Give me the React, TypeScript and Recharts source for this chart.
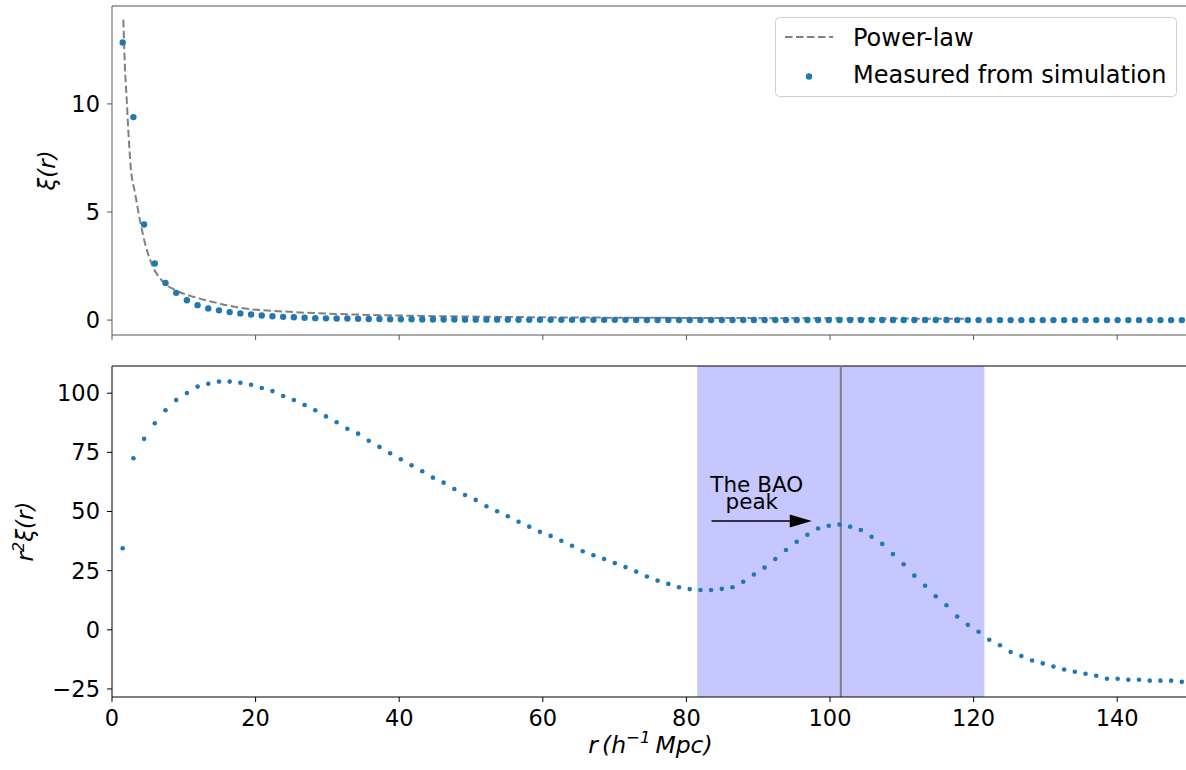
import {
  ComposedChart, Scatter, Line, XAxis, YAxis,
  ReferenceArea, ReferenceLine, ReferenceDot,
} from 'recharts';

// separation r in h^-1 Mpc
const R = [
  1.49, 2.98, 4.47, 5.96, 7.45, 8.94, 10.43, 11.92, 13.41, 14.9,
  16.39, 17.88, 19.37, 20.86, 22.35, 23.84, 25.33, 26.82, 28.31, 29.8,
  31.29, 32.78, 34.27, 35.76, 37.25, 38.74, 40.23, 41.72, 43.21, 44.7,
  46.19, 47.68, 49.17, 50.66, 52.15, 53.64, 55.13, 56.62, 58.11, 59.6,
  61.09, 62.58, 64.07, 65.56, 67.05, 68.54, 70.03, 71.52, 73.01, 74.5,
  75.99, 77.48, 78.97, 80.46, 81.95, 83.44, 84.93, 86.42, 87.91, 89.4,
  90.89, 92.38, 93.87, 95.36, 96.85, 98.34, 99.83, 101.32, 102.81, 104.3,
  105.79, 107.28, 108.77, 110.26, 111.75, 113.24, 114.73, 116.22, 117.71, 119.2,
  120.69, 122.18, 123.67, 125.16, 126.65, 128.14, 129.63, 131.12, 132.61, 134.1,
  135.59, 137.08, 138.57, 140.06, 141.55, 143.04, 144.53, 146.02, 147.51, 149.0,
];

// xi(r) measured from simulation
const XI = [
  12.84, 9.39, 4.42, 2.62, 1.72, 1.26, 0.92, 0.69, 0.54, 0.45,
  0.37, 0.31, 0.26, 0.21, 0.18, 0.15, 0.13, 0.11, 0.09, 0.08,
  0.07, 0.07, 0.06, 0.05, 0.05, 0.04, 0.04, 0.04, 0.03, 0.03,
  0.03, 0.03, 0.02, 0.02, 0.02, 0.02, 0.02, 0.01, 0.01, 0.01,
  0.01, 0.01, 0.01, 0.01, 0.01, 0.01, 0.01, 0.01, 0.005, 0.004,
  0.004, 0.003, 0.003, 0.003, 0.003, 0.002, 0.002, 0.002, 0.003, 0.003,
  0.003, 0.004, 0.004, 0.004, 0.004, 0.004, 0.004, 0.004, 0.004, 0.004,
  0.004, 0.003, 0.003, 0.002, 0.002, 0.002, 0.001, 0.001, 0.0, 0.0,
  0.0, 0.0, 0.0, -0.001, -0.001, -0.001, -0.001, -0.001, -0.001, -0.001,
  -0.001, -0.001, -0.001, -0.001, -0.001, -0.001, -0.001, -0.001, -0.001, -0.001,
];

// r^2 xi(r)
const R2XI = [
  34.5, 72.5, 80.7, 87.3, 92.8, 97.1, 100.1, 102.8, 104.0, 104.9,
  104.9, 104.4, 103.6, 102.2, 100.9, 98.8, 97.1, 95.0, 92.8, 90.2,
  87.7, 85.0, 82.9, 79.9, 77.3, 74.6, 72.1, 69.5, 67.0, 64.3,
  62.2, 59.5, 57.0, 54.9, 52.2, 50.1, 48.0, 45.7, 43.6, 41.4,
  39.7, 37.6, 35.5, 33.2, 31.5, 29.9, 28.2, 26.5, 24.6, 22.5,
  20.8, 19.4, 18.0, 17.2, 16.8, 16.8, 17.3, 18.0, 20.3, 23.4,
  26.3, 29.9, 33.7, 37.2, 40.2, 42.8, 44.0, 44.5, 43.6, 42.2,
  39.3, 36.3, 32.0, 27.7, 22.9, 18.6, 14.2, 10.4, 5.6, 2.1,
  -0.8, -4.2, -6.5, -9.4, -11.1, -13.0, -14.2, -15.5, -16.8, -17.7,
  -18.6, -19.4, -20.7, -20.7, -21.1, -21.1, -21.5, -21.5, -21.5, -22.0,
];

// power-law curve
const POWER_R = [1.58, 1.8, 2.05, 2.3, 2.6, 3.2, 3.9, 4.6, 5.5, 7.1, 8.8, 11.3, 13.9, 17.8, 24.8, 31.8, 38.7, 45.7, 60, 80, 100, 119];
const POWER_XI = [13.9, 11.7, 10.2, 8.6, 7.1, 5.9, 4.6, 3.55, 2.62, 1.77, 1.39, 1.08, 0.85, 0.57, 0.38, 0.28, 0.22, 0.18, 0.13, 0.1, 0.08, 0.06];

const X_TICKS = [0, 20, 40, 60, 80, 100, 120, 140];
const XI_TICKS = [0, 5, 10];
const R2XI_TICKS = [-25, 0, 25, 50, 75, 100];

const BAO_PEAK = 101.5;
const BAO_LO = 81.5;
const BAO_HI = 121.5;

const FONT = '"DejaVu Sans", sans-serif';
const BLUE = '#1f77b4';

const xiData = R.map((r, i) => ({ r, y: XI[i] }));
const r2xiData = R.map((r, i) => ({ r, y: R2XI[i] }));
const powerData = POWER_R.map((r, i) => ({ r, y: POWER_XI[i] }));

const dot = (rad: number) => (p: any) => <circle cx={p.cx} cy={p.cy} r={rad} fill={BLUE} />;

const minus = (v: number) => String(v).replace('-', '\u2212');

const tickStyle = { fontSize: 22.5, fill: '#000', fontFamily: FONT };

export default function App() {
  return (
    <div style={{ position: 'fixed', left: 0, top: 0, width: 1186, height: 770, overflow: 'hidden', background: '#fff' }}>
      <div style={{ position: 'absolute', left: 0, top: 0 }}>
        <ComposedChart width={1189} height={350} margin={{ top: 6, right: 0, bottom: 0, left: 0 }}>
          <XAxis
            dataKey="r" type="number" domain={[0, 150]} ticks={X_TICKS} allowDataOverflow
            tickFormatter={() => ''} tickSize={5} height={15} stroke="#555"
          />
          <YAxis
            dataKey="y" type="number" domain={[-0.69, 14.53]} ticks={XI_TICKS} allowDataOverflow
            width={112} tickSize={5} tickMargin={7} tick={tickStyle} stroke="#555"
            label={(p: any) => (
              <text
                transform={`translate(55,${p.viewBox.y + p.viewBox.height / 2}) rotate(-90)`}
                textAnchor="middle" fontSize={23} fontFamily={FONT} fontStyle="italic" fill="#000"
              >ξ(r)</text>
            )}
          />
          <ReferenceLine y={14.53} stroke="#555" />
          <Line
            data={powerData} dataKey="y" type="monotone" stroke="#808080" strokeWidth={2}
            strokeDasharray="7.5 3.5" dot={false} isAnimationActive={false}
          />
          <Scatter data={xiData} dataKey="y" shape={dot(3.2)} isAnimationActive={false} />
        </ComposedChart>
      </div>

      <div style={{ position: 'absolute', left: 0, top: 350 }}>
        <ComposedChart width={1189} height={420} margin={{ top: 16, right: 0, bottom: 0, left: 0 }}>
          <XAxis
            dataKey="r" type="number" domain={[0, 150]} ticks={X_TICKS} allowDataOverflow
            tickSize={5} tickMargin={8} height={73} tick={tickStyle} stroke="#000"
            label={(p: any) => (
              <text
                x={p.viewBox.x + p.viewBox.width / 2} y={p.viewBox.y + 56}
                textAnchor="middle" fontSize={23.5} fontFamily={FONT} fontStyle="italic" fill="#000"
              >
                <tspan>r</tspan>
                <tspan dx={4}>(h</tspan>
                <tspan dy={-10} fontSize={16.5}>−1</tspan>
                <tspan dy={10} dx={5}>Mpc)</tspan>
              </text>
            )}
          />
          <YAxis
            dataKey="y" type="number" domain={[-28.4, 111.5]} ticks={R2XI_TICKS} allowDataOverflow
            width={112} tickSize={5} tickMargin={7} tick={tickStyle} stroke="#000"
            tickFormatter={minus}
            label={(p: any) => (
              <text
                transform={`translate(33,${p.viewBox.y + p.viewBox.height / 2}) rotate(-90)`}
                textAnchor="middle" fontSize={23} fontFamily={FONT} fontStyle="italic" fill="#000"
              >
                <tspan>r</tspan>
                <tspan dy={-9} fontSize={16}>2</tspan>
                <tspan dy={9}>ξ(r)</tspan>
              </text>
            )}
          />
          <ReferenceLine y={111.5} stroke="#000" />
          <Scatter data={r2xiData} dataKey="y" shape={dot(2.3)} isAnimationActive={false} />
          <ReferenceArea x1={BAO_LO} x2={BAO_HI} fill="#0000ff" fillOpacity={0.22} stroke="none" />
          <ReferenceLine x={BAO_PEAK} stroke="#808080" strokeWidth={2} />
          <ReferenceLine segment={[{ x: 83.5, y: 46 }, { x: 95, y: 46 }]} stroke="#000" strokeWidth={1.5} />
          <ReferenceDot
            x={97.46} y={46}
            shape={(p: any) => (
              <polygon
                points={`${p.cx},${p.cy} ${p.cx - 22},${p.cy - 6.5} ${p.cx - 22},${p.cy + 6.5}`}
                fill="#000"
              />
            )}
          />
          <ReferenceDot
            x={89.8} y={58.4}
            shape={(p: any) => (
              <g fontFamily={FONT} fontSize={21.5} fill="#000" textAnchor="middle">
                <text x={p.cx} y={p.cy}>The BAO</text>
                <text x={p.cx - 5} y={p.cy + 17.5}>peak</text>
              </g>
            )}
          />
        </ComposedChart>
      </div>

      <svg
        style={{ position: 'absolute', left: 775, top: 17 }}
        width={402} height={80} fontFamily={FONT} fontSize={24}
      >
        <rect x={0.5} y={0.5} width={401} height={79} rx={4} fill="rgba(255,255,255,0.8)" stroke="#d0d0d0" />
        <line x1={10} x2={58} y1={20} y2={20} stroke="#808080" strokeWidth={2} strokeDasharray="7.5 3.5" />
        <circle cx={34} cy={59.5} r={3.2} fill={BLUE} />
        <text x={78} y={29} fill="#000">Power-law</text>
        <text x={78} y={66} fill="#000">Measured from simulation</text>
      </svg>
    </div>
  );
}
